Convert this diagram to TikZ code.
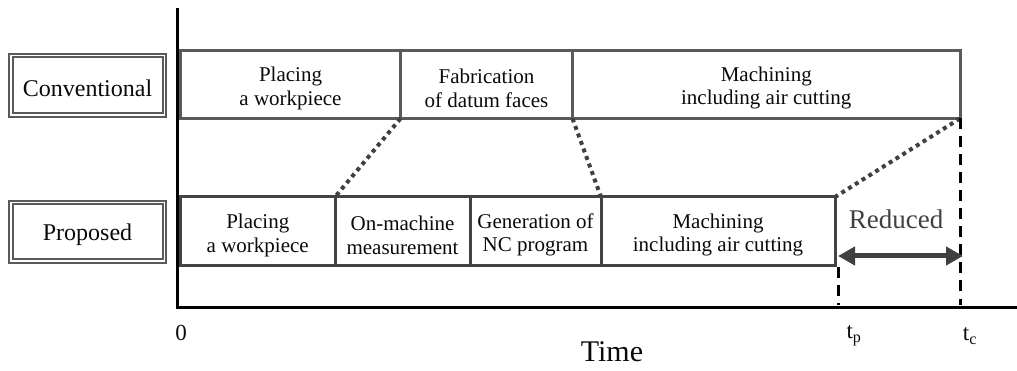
\documentclass[tikz,border=0pt]{standalone}
\usepackage{fontspec}
\setmainfont{Liberation Serif}
\usetikzlibrary{arrows.meta}
\definecolor{boxgray}{HTML}{5A5A5A}
\definecolor{pgray}{HTML}{434343}
\definecolor{dgray}{HTML}{404040}
\definecolor{txt}{HTML}{0A0A0A}
\newcommand{\lowerstrut}{\rule{0pt}{22pt}}
\begin{document}
\begin{tikzpicture}[x=1pt,y=-1pt,
  stage/.style={draw=boxgray, line width=3pt, fill=white, align=center, text=txt,
    font=\fontsize{21}{23.5}\selectfont, inner sep=0pt, outer sep=0pt,
    anchor=north west, minimum height=68pt},
  pstage/.style={stage, draw=pgray, minimum height=69pt},
  rowlabel/.style={draw=boxgray, double=white, double distance=1.5pt, line width=2pt,
    minimum width=153.5pt, anchor=north west, text=txt,
    font=\fontsize{24}{28}\selectfont, inner sep=0pt, outer sep=0pt},
  dotline/.style={draw=dgray, line width=4pt, dash pattern=on 4pt off 4pt},
  dashline/.style={draw=black, line width=3pt, dash pattern=on 11pt off 7pt},
  ticklabel/.style={font=\fontsize{23}{26}\selectfont, text=txt}
]
\useasboundingbox (0,0) rectangle (1017,371);

% axes
\coordinate (ytop) at (177,8);
\coordinate (orig) at (177,307);
\coordinate (xend) at (1017,307);
\draw[line width=3pt] (ytop) -- (orig) -- (xend);

% row labels
\node[rowlabel, minimum height=59.5pt] (conv) at (10.75,55.75) {\lowerstrut Conventional};
\node[rowlabel, minimum height=58.5pt] (prop) at (10.75,202.75) {\lowerstrut Proposed};

% conventional stages
\node[stage, minimum width=220pt] (c1) at (180.5,50.5) {\lowerstrut Placing\\a workpiece};
\node[stage, minimum width=172pt] (c2) at (400.5,50.5) {\lowerstrut Fabrication\\of datum faces};
\node[stage, minimum width=387.5pt] (c3) at (572.5,50.5) {\lowerstrut Machining\\including air cutting};

% proposed stages
\node[pstage, minimum width=154.5pt] (p1) at (180.5,197) {\lowerstrut Placing\\a workpiece};
\node[pstage, minimum width=135pt] (p2) at (335,197) {\lowerstrut On-machine\\measurement};
\node[pstage, minimum width=131pt] (p3) at (470,197) {\lowerstrut Generation of\\NC program};
\node[pstage, minimum width=234pt] (p4) at (601,197) {\lowerstrut Machining\\including air cutting};

% dotted mapping lines
\draw[dotline] (c1.south east) -- (p1.north east);
\draw[dotline] (c2.south east) -- (p3.north east);
\draw[dotline] (c3.south east) -- (p4.north east);

% dashed time markers
\coordinate (tpt) at (838,267);
\coordinate (tpb) at (838,305);
\coordinate (tcb) at (960,305);
\draw[dashline] (tpt) -- (tpb);
\draw[dashline] (c3.south east) -- (tcb);

% reduced arrow
\coordinate (ra) at (838,256);
\coordinate (rb) at (963,256);
\draw[draw=dgray, line width=5pt, {Triangle[length=17pt,width=18pt]}-{Triangle[length=17pt,width=18pt]}] (ra) -- (rb);
\node[font=\fontsize{27}{30}\selectfont, text=dgray] (red) at (896,219) {Reduced};

% axis labels
\node[ticklabel] (zero) at (181,333) {0};
\node[ticklabel] (tp) at (854,336) {t\textsubscript{p}};
\node[ticklabel] (tc) at (970,336) {t\textsubscript{c}};
\node[font=\fontsize{30}{34}\selectfont, text=txt] (time) at (612,352) {Time};
\end{tikzpicture}
\end{document}
